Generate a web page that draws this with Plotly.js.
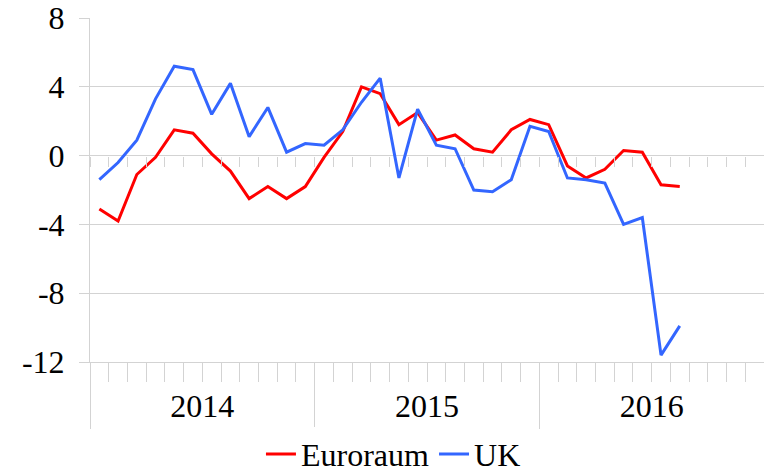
<!DOCTYPE html>
<html>
<head>
<meta charset="utf-8">
<script src="https://cdn.plot.ly/plotly-3.0.1.min.js"></script>
<style>html,body{margin:0;padding:0;background:#fff;}#chart{width:764px;height:474px;}</style>
</head>
<body>
<div id="chart"></div>
<script>
// Monthly categories (Jan 2014 – Dec 2016)
const months = [
  '2014-01','2014-02','2014-03','2014-04','2014-05','2014-06','2014-07','2014-08','2014-09','2014-10','2014-11','2014-12',
  '2015-01','2015-02','2015-03','2015-04','2015-05','2015-06','2015-07','2015-08','2015-09','2015-10','2015-11','2015-12',
  '2016-01','2016-02','2016-03','2016-04','2016-05','2016-06','2016-07','2016-08','2016-09','2016-10','2016-11','2016-12'
];
const years = ['2014', '2015', '2016'];
const seriesNames = ['Euroraum', 'UK'];
const euroraum = [-3.1, -3.8, -1.1, -0.1, 1.5, 1.3, 0.1, -0.9, -2.5, -1.8, -2.5, -1.8,
                  -0.1, 1.4, 4.0, 3.6, 1.8, 2.5, 0.9, 1.2, 0.4, 0.2, 1.5, 2.1,
                  1.8, -0.6, -1.3, -0.8, 0.3, 0.2, -1.7, -1.8];
const uk = [-1.4, -0.4, 0.9, 3.3, 5.2, 5.0, 2.4, 4.2, 1.1, 2.8, 0.2, 0.7,
            0.6, 1.5, 3.1, 4.5, -1.3, 2.7, 0.6, 0.4, -2.0, -2.1, -1.4, 1.7,
            1.4, -1.3, -1.4, -1.6, -4.0, -3.6, -11.6, -9.9];
const yTickVals = [-12, -8, -4, 0, 4, 8];
const yTickText = ['-12', '-8', '-4', '0', '4', '8'];

// positions derived from the category list
const idx = months.map((m, i) => i);
const monthBounds = months.map((m, i) => i - 0.5).concat([months.length - 0.5]);
const yearBounds = monthBounds.filter((b, i) => i % 12 === 0);
const yearCenters = years.map((y, k) => k * 12 + 5.5);

const GRAY = '#d3d3d3';
const FONT = '"Liberation Serif", serif';

const traces = [
  {x: idx.slice(0, euroraum.length), y: euroraum, name: seriesNames[0], type: 'scatter', mode: 'lines',
   line: {color: '#ff0000', width: 3}},
  {x: idx.slice(0, uk.length), y: uk, name: seriesNames[1], type: 'scatter', mode: 'lines',
   line: {color: '#3366ff', width: 3}},
  {x: [], y: [], xaxis: 'x2', showlegend: false, hoverinfo: 'skip', type: 'scatter'},
  {x: [], y: [], xaxis: 'x3', showlegend: false, hoverinfo: 'skip', type: 'scatter'}
];

const xRange = [-0.5, months.length - 0.5];
const layout = {
  width: 764, height: 474,
  margin: {l: 90, r: 0, t: 18, b: 112, autoexpand: false},
  paper_bgcolor: '#ffffff', plot_bgcolor: '#ffffff',
  font: {family: FONT, size: 32, color: '#000000'},
  showlegend: true,
  legend: {orientation: 'h', x: 0.515, xanchor: 'center', xref: 'container', y: 0.042, yanchor: 'middle', yref: 'container',
           font: {family: FONT, size: 32, color: '#000'}, itemwidth: 30, tracegroupgap: 0, borderwidth: 0},
  xaxis: {range: xRange, tickmode: 'array', tickvals: yearCenters, ticktext: years, ticks: '',
          showline: true, linecolor: GRAY, linewidth: 1, showgrid: false, zeroline: false, automargin: false,
          tickfont: {family: FONT, size: 32, color: '#000'}, ticklabelstandoff: 16, fixedrange: true},
  xaxis2: {range: xRange, overlaying: 'x', anchor: 'y', side: 'bottom', tickmode: 'array', tickvals: yearBounds,
           ticks: 'outside', ticklen: 66, tickcolor: GRAY, tickwidth: 1, showticklabels: false,
           showgrid: false, zeroline: false, showline: false, automargin: false,
           minor: {tickmode: 'array', tickvals: monthBounds, ticks: 'outside', ticklen: 19, tickcolor: GRAY, tickwidth: 1, showgrid: false}},
  xaxis3: {range: xRange, overlaying: 'x', anchor: 'free', position: 0.6, side: 'bottom', tickmode: 'array', tickvals: monthBounds,
           ticks: 'outside', ticklen: 10, tickcolor: GRAY, tickwidth: 1, showticklabels: false,
           showgrid: false, zeroline: false, showline: false, automargin: false},
  yaxis: {range: [-12, 8], tickmode: 'array', tickvals: yTickVals, ticktext: yTickText,
          ticks: 'outside', ticklen: 10, tickcolor: GRAY, tickwidth: 1, automargin: false,
          showgrid: true, gridcolor: GRAY, gridwidth: 1, zeroline: false,
          showline: true, linecolor: GRAY, linewidth: 1,
          tickfont: {family: FONT, size: 32, color: '#000'}, ticklabelstandoff: 8, fixedrange: true}
};

Plotly.newPlot('chart', traces, layout, {staticPlot: true, displayModeBar: false});
</script>
</body>
</html>
